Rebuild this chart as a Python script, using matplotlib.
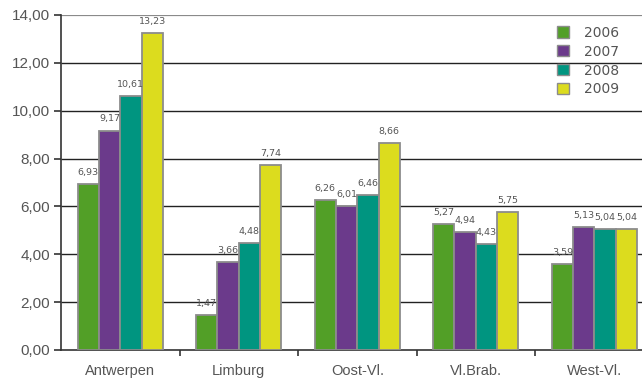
import matplotlib
matplotlib.use('Agg')
import matplotlib.pyplot as plt
import numpy as np
from matplotlib.patches import Patch

provinces = ['Antwerpen', 'Limburg', 'Oost-Vl.', 'Vl.Brab.', 'West-Vl.']
years = ['2006', '2007', '2008', '2009']
v2006 = [6.93, 1.47, 6.26, 5.27, 3.59]
v2007 = [9.17, 3.66, 6.01, 4.94, 5.13]
v2008 = [10.61, 4.48, 6.46, 4.43, 5.04]
v2009 = [13.23, 7.74, 8.66, 5.75, 5.04]
colors = ['#529f27', '#6b3a8b', '#009580', '#dcdc1e']

plt.rcParams['font.family'] = ['Liberation Sans', 'DejaVu Sans']

fig = plt.figure(figsize=(6.42, 3.81), dpi=100)
# axes extends beyond the right edge, like the cropped original
ax = fig.add_axes([0.095, 0.0814, 0.923, 0.8793])

x = np.arange(len(provinces))
w = 0.18
series = [v2006, v2007, v2008, v2009]
for i, vals in enumerate(series):
    pos = x + (i - 1.5) * w
    ax.bar(pos, vals, width=w, color=colors[i], edgecolor='#8c8c8c', linewidth=1.3, zorder=3)
    for px, v in zip(pos, vals):
        ax.text(px, v + 0.3, f'{v:.2f}'.replace('.', ','), ha='center', va='bottom',
                fontsize=6.8, color='#555555', family='DejaVu Sans', zorder=4)

ax.set_xlim(-0.5, len(provinces) - 0.5)
ax.set_ylim(0, 14)
yt = np.arange(0, 15, 2)
ax.set_yticks(yt)
ax.set_yticklabels([f'{t:.2f}'.replace('.', ',') for t in yt])
ax.hlines(yt[1:-1], -0.5, len(provinces) - 0.5, color='#222222', linewidth=1.0, zorder=0)
ax.axhline(14, color='#8a8a8a', linewidth=1.6, zorder=1)
ax.set_xticks(x)
ax.set_xticklabels(provinces)
ax.set_xticks(np.arange(0.5, len(provinces) - 0.5, 1), minor=True)
ax.tick_params(axis='x', which='major', length=0, pad=10, labelsize=10.5, labelcolor='#555555')
ax.tick_params(axis='x', which='minor', length=4, direction='out', color='#333333', width=1.2)
ax.tick_params(axis='y', length=5, direction='out', color='#333333', width=1.2, labelsize=11, labelcolor='#555555', pad=3)

for s in ['top', 'right']:
    ax.spines[s].set_visible(False)
ax.spines['left'].set_color('#333333')
ax.spines['left'].set_linewidth(1.2)
ax.spines['bottom'].set_color('#333333')
ax.spines['bottom'].set_linewidth(1.2)

handles = [Patch(facecolor=c, edgecolor='#8c8c8c', linewidth=1) for c in colors]
fig.legend(handles, years, loc='upper left', bbox_to_anchor=(0.848, 0.965), frameon=False,
           handlelength=0.85, handleheight=0.85, labelspacing=0.35, handletextpad=1.1,
           prop={'family': 'DejaVu Sans', 'size': 10}, labelcolor='#555555')

fig.savefig('out.png', dpi=100)
